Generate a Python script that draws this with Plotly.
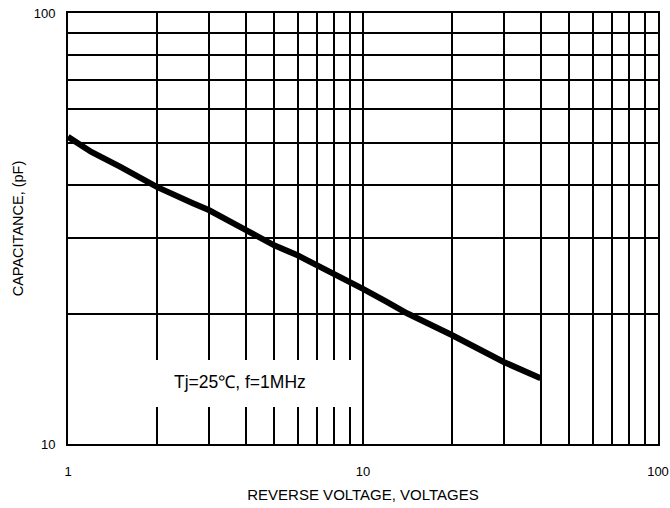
import plotly.graph_objects as go

# ==============================================================================
# CAPACITANCE vs REVERSE VOLTAGE (log-log)
# ==============================================================================
voltage = [1, 1.2, 1.5, 2, 2.65, 3, 4, 5, 6, 7, 8, 9, 10, 12, 14.1, 20, 30, 40]
capacitance = [51.6, 47.6, 44.0, 39.5, 36.2, 34.9, 31.4, 28.9, 27.4, 26.0, 24.9, 23.8, 22.9, 21.4, 20.1, 17.9, 15.5, 14.2]

x_major = [1, 10, 100]
x_major_text = ["1", "10", "100"]
x_minor = [2, 3, 4, 5, 6, 7, 8, 9, 20, 30, 40, 50, 60, 70, 80, 90]
y_major = [10, 100]
y_major_text = ["10", "100"]
y_minor = [20, 30, 40, 50, 60, 70, 80, 90]

note_text = "Tj=25℃, f=1MHz"

FONT = "Liberation Sans, Arial, sans-serif"

fig = go.Figure()
fig.add_trace(go.Scatter(
    x=voltage,
    y=capacitance,
    mode="lines",
    line=dict(color="#000000", width=6),
    showlegend=False,
))

# white box behind the condition note (hides the grid there)
fig.add_shape(
    type="rect", xref="paper", yref="paper",
    x0=0.139, x1=0.4915, y0=0.086, y1=0.195,
    fillcolor="#ffffff", line=dict(width=0), layer="above",
)
fig.add_annotation(
    xref="paper", yref="paper", x=0.2915, y=0.144,
    xanchor="center", yanchor="middle",
    text=note_text, showarrow=False,
    font=dict(family=FONT, size=17.5, color="#000000"),
)

axis_common = dict(
    type="log",
    automargin=False,
    ticklabeloverflow="allow",
    showline=True, linecolor="#000000", linewidth=2, mirror=True,
    showgrid=True, gridcolor="#000000", gridwidth=2,
    zeroline=False, ticks="",
    tickfont=dict(family=FONT, size=13, color="#000000"),
)

fig.update_layout(
    width=670, height=508,
    paper_bgcolor="#ffffff",
    plot_bgcolor="#ffffff",
    margin=dict(l=68, r=12, t=13, b=64),
    font=dict(family=FONT, color="#000000"),
    xaxis=dict(
        axis_common,
        range=[0, 2],
        ticklabelstandoff=14,
        tickmode="array", tickvals=x_major, ticktext=x_major_text,
        minor=dict(tickvals=x_minor, showgrid=True, gridcolor="#000000", gridwidth=2, ticks=""),
        title=dict(text="REVERSE VOLTAGE, VOLTAGES", font=dict(family=FONT, size=15, color="#000000"), standoff=12),
    ),
    yaxis=dict(
        axis_common,
        range=[1, 2],
        ticklabelstandoff=8,
        tickmode="array", tickvals=y_major, ticktext=y_major_text,
        minor=dict(tickvals=y_minor, showgrid=True, gridcolor="#000000", gridwidth=2, ticks=""),
        title=dict(text="CAPACITANCE, (pF)", font=dict(family=FONT, size=14.5, color="#000000"), standoff=7),
    ),
)

# drop the default 8px page margin so the 670x508 figure fills the window exactly
fig.write_html(
    "out.html",
    config={"displayModeBar": False},
    post_script="document.body.style.margin='0';document.body.style.overflow='hidden';",
)
